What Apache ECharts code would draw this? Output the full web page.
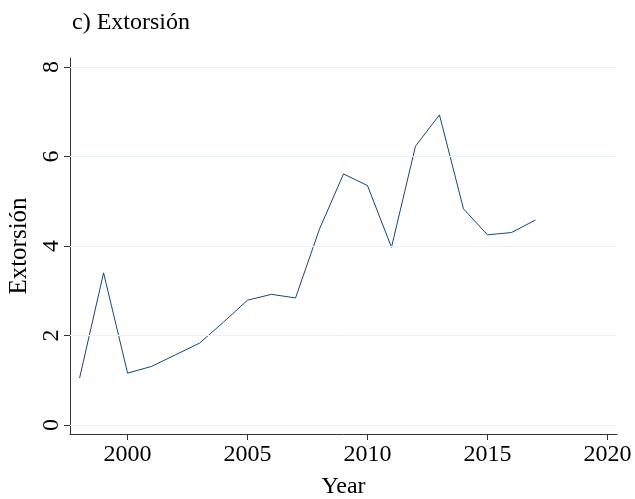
<!DOCTYPE html>
<html>
<head>
<meta charset="utf-8">
<script src="https://cdn.jsdelivr.net/npm/echarts@6/dist/echarts.min.js"></script>
<style>
  html, body { margin: 0; padding: 0; background: #fff; }
  #chart { width: 635px; height: 499px; }
</style>
</head>
<body>
<div id="chart"></div>
<script>
// datos
var years = [1998, 1999, 2000, 2001, 2002, 2003, 2004, 2005, 2006, 2007,
             2008, 2009, 2010, 2011, 2012, 2013, 2014, 2015, 2016, 2017];
var extorsion = [1.05, 3.40, 1.16, 1.31, 1.57, 1.83, 2.30, 2.79, 2.92, 2.84,
                 4.38, 5.61, 5.35, 3.97, 6.23, 6.93, 4.83, 4.25, 4.30, 4.58];
var xTicks = [2000, 2005, 2010, 2015, 2020];
var yTicks = [0, 2, 4, 6, 8];

var serif = '"Liberation Serif", "DejaVu Serif", serif';
var chart = echarts.init(document.getElementById('chart'));

var option = {
    backgroundColor: '#fff',
    animation: false,
    title: {
        text: 'c) Extorsión',
        left: 67, top: 6,
        textStyle: { fontFamily: serif, fontSize: 24, fontWeight: 'normal', color: '#000' }
    },
    grid: { left: 70, right: 18, top: 58, bottom: 65, outerBoundsMode: 'none', containLabel: false },
    xAxis: {
        type: 'value', min: 1997.6, max: 2020.4,
        name: 'Year', nameLocation: 'middle', nameGap: 41,
        nameTextStyle: { fontFamily: serif, fontSize: 24, color: '#000' },
        axisLine: { show: true, onZero: false, lineStyle: { color: '#333', width: 1 } },
        axisTick: { show: true, length: 6, customValues: xTicks, lineStyle: { color: '#333' } },
        axisLabel: {
            customValues: xTicks, margin: 9, fontFamily: serif, fontSize: 24, color: '#000',
            formatter: function (v) { return String(v); }
        },
        splitLine: { show: false }
    },
    yAxis: {
        type: 'value', min: -0.2, max: 8.2,
        name: 'Extorsión', nameLocation: 'middle', nameGap: 36,
        nameTextStyle: { fontFamily: serif, fontSize: 25, color: '#000' },
        axisLine: { show: true, onZero: false, lineStyle: { color: '#333', width: 1 } },
        axisTick: { show: true, length: 6, customValues: yTicks, lineStyle: { color: '#333' } },
        axisLabel: { customValues: yTicks, rotate: 90, margin: 6, fontFamily: serif, fontSize: 24, color: '#000' },
        splitLine: { show: false }
    },
    series: [{
        type: 'line',
        data: years.map(function (y, i) { return [y, extorsion[i]]; }),
        showSymbol: false,
        lineStyle: { color: '#1a476f', width: 1 },
        markLine: {
            silent: true, symbol: 'none', label: { show: false },
            lineStyle: { color: '#eaf2f3', width: 1, type: 'solid' },
            data: yTicks.map(function (v) { return { yAxis: v }; })
        }
    }]
};
chart.setOption(option);
</script>
</body>
</html>
